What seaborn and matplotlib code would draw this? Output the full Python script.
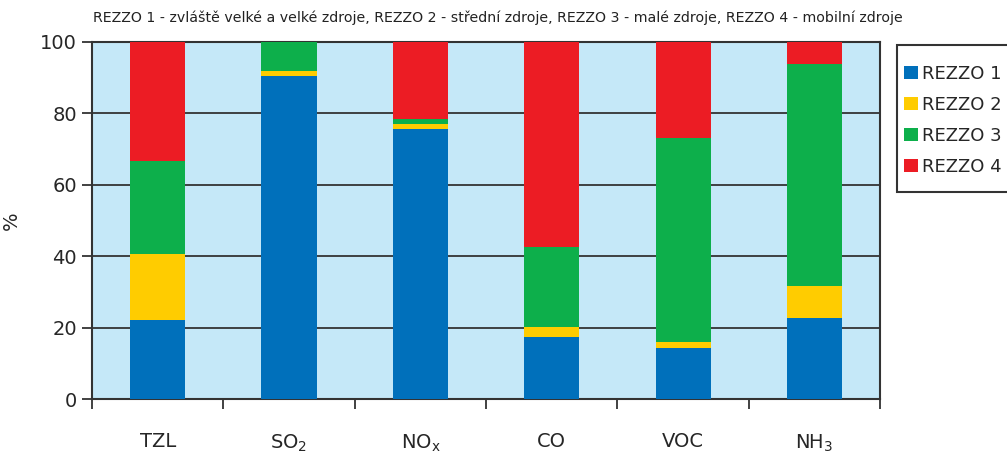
import numpy as np
import pandas as pd
import matplotlib
matplotlib.use("Agg")
import matplotlib.pyplot as plt
import seaborn as sns
from matplotlib.patches import Patch, Rectangle

# --- data (% share of each source category) ---
pollutants = ["TZL", "SO$_\\mathrm{2}$", "NO$_\\mathrm{x}$", "CO", "VOC", "NH$_\\mathrm{3}$"]
series = ["REZZO 1", "REZZO 2", "REZZO 3", "REZZO 4"]
rezzo1 = [22.0, 90.5, 75.6, 17.5, 14.3, 22.6]
rezzo2 = [18.7, 1.3, 1.3, 2.6, 1.8, 9.1]
rezzo3 = [26.0, 8.2, 1.5, 22.6, 56.9, 62.1]
rezzo4 = [33.3, 0.0, 21.6, 57.3, 27.0, 6.2]
colors = ["#0070BB", "#FFCC00", "#0DAF4B", "#EC1C24"]

title = ("REZZO 1 - zvláště velké a velké zdroje, REZZO 2 - střední zdroje, "
         "REZZO 3 - malé zdroje, REZZO 4 - mobilní zdroje")

sns.set_theme(style="white")
plt.rcParams["font.family"] = ["DejaVu Sans"]
plt.rcParams["mathtext.default"] = "regular"

# stacked bars: draw cumulative totals from the top layer down
stack = np.cumsum(np.array([rezzo1, rezzo2, rezzo3, rezzo4]), axis=0)

fig = plt.figure(figsize=(10.07, 4.54), dpi=100)
ax = fig.add_axes([0.0914, 0.1211, 0.7826, 0.7864])
ax.set_facecolor("#C5E8F8")

for i in range(len(series) - 1, -1, -1):
    df = pd.DataFrame({"pollutant": pollutants, "value": stack[i]})
    sns.barplot(data=df, x="pollutant", y="value", color=colors[i],
                width=0.42, saturation=1, ax=ax, zorder=3, linewidth=0)

ax.set_ylim(0, 100)
ax.set_xlim(-0.5, len(pollutants) - 0.5)
ax.set_yticks(np.arange(0, 101, 20))
ax.yaxis.grid(True, color="#333333", linewidth=1.3, zorder=1)
ax.set_axisbelow(True)

# x ticks sit at category boundaries, labels centred under bars
ax.set_xticks(np.arange(-0.5, len(pollutants), 1.0))
ax.set_xticklabels([])
ax.set_xticks(np.arange(len(pollutants)), minor=True)
ax.set_xticklabels(pollutants, minor=True, fontsize=14)
ax.tick_params(axis="x", which="major", direction="out", length=7, width=1.3,
               color="#333333", bottom=True)
ax.tick_params(axis="x", which="minor", length=0, pad=24)
ax.tick_params(axis="y", direction="out", length=7, width=1.3,
               color="#333333", left=True, labelsize=14, pad=4)

for s in ax.spines.values():
    s.set_color("#333333")
    s.set_linewidth(1.5)

ax.set_xlabel("")
ax.set_ylabel("%", fontsize=14, labelpad=14)

fig.text(0.092, 0.96, title, fontsize=10.2, ha="left", va="center",
         color="#222222")

# legend box runs off the right edge like in the original
fig.patches.append(Rectangle((897 / 1007, 1 - 192 / 454), 120 / 1007, 147 / 454,
                             transform=fig.transFigure, facecolor="white",
                             edgecolor="#333333", linewidth=1.5, zorder=0))
handles = [Patch(facecolor=c, edgecolor="none") for c in colors]
leg = fig.legend(handles, series, loc="upper left",
                 bbox_to_anchor=(904 / 1007, 1 - 65 / 454), fontsize=13,
                 handlelength=0.75, handleheight=0.75, handletextpad=0.25,
                 labelspacing=0.72, borderpad=0, borderaxespad=0,
                 frameon=False)

fig.savefig("out.png", dpi=100)
